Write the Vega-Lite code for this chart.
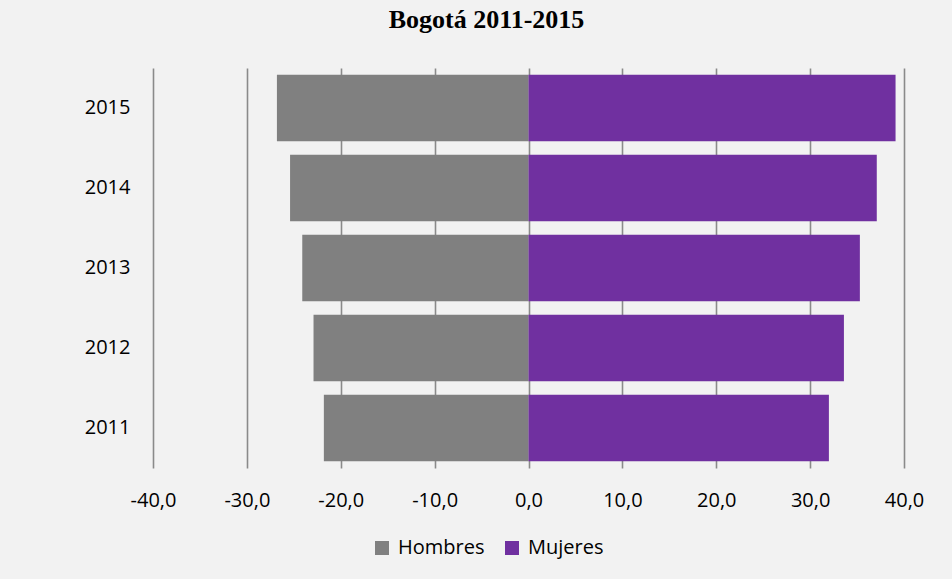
{
  "$schema": "https://vega.github.io/schema/vega-lite/v6.json",
  "width": 751,
  "height": 400,
  "autosize": "none",
  "padding": {"left": 153, "top": 68, "right": 48, "bottom": 111},
  "background": "#f2f2f2",
  "title": {
    "text": "Bogotá 2011-2015",
    "font": "Liberation Serif",
    "fontSize": 26,
    "fontWeight": "bold",
    "color": "#000000",
    "anchor": "middle",
    "frame": "group",
    "baseline": "alphabetic",
    "offset": 14,
    "dx": -42
  },
  "data": {
    "values": [
      {"anio": "2015", "sexo": "Hombres", "valor": -26.8},
      {"anio": "2014", "sexo": "Hombres", "valor": -25.4},
      {"anio": "2013", "sexo": "Hombres", "valor": -24.1},
      {"anio": "2012", "sexo": "Hombres", "valor": -22.9},
      {"anio": "2011", "sexo": "Hombres", "valor": -21.8},
      {"anio": "2015", "sexo": "Mujeres", "valor": 39.1},
      {"anio": "2014", "sexo": "Mujeres", "valor": 37.1},
      {"anio": "2013", "sexo": "Mujeres", "valor": 35.3},
      {"anio": "2012", "sexo": "Mujeres", "valor": 33.6},
      {"anio": "2011", "sexo": "Mujeres", "valor": 32.0}
    ]
  },
  "mark": {"type": "bar"},
  "encoding": {
    "y": {
      "field": "anio",
      "type": "ordinal",
      "sort": "descending",
      "scale": {"paddingInner": 0.1667, "paddingOuter": 0.0833},
      "axis": {
        "title": null,
        "domain": false,
        "ticks": false,
        "grid": false,
        "labelPadding": 23,
        "labelFont": "Open Sans",
        "labelFontSize": 20,
        "labelColor": "#000000"
      }
    },
    "x": {
      "field": "valor",
      "type": "quantitative",
      "scale": {"domain": [-40, 40], "nice": false},
      "axis": {
        "title": null,
        "values": [-40, -30, -20, -10, 0, 10, 20, 30, 40],
        "labelExpr": "(datum.value < 0 ? '-' : '') + replace(format(abs(datum.value), '.1f'), '.', ',')",
        "domain": false,
        "ticks": false,
        "grid": true,
        "gridColor": "#8a8a8a",
        "gridWidth": 1.6,
        "labelPadding": 22,
        "labelFont": "Open Sans",
        "labelFontSize": 20,
        "labelColor": "#000000",
        "labelFlush": false
      }
    },
    "color": {
      "field": "sexo",
      "type": "nominal",
      "scale": {"domain": ["Hombres", "Mujeres"], "range": ["#808080", "#7030a0"]},
      "legend": {
        "title": null,
        "orient": "none",
        "direction": "horizontal",
        "legendX": 219,
        "legendY": 470,
        "symbolType": "square",
        "symbolSize": 196,
        "symbolStrokeWidth": 0,
        "symbolOpacity": 1,
        "labelFont": "Open Sans",
        "labelFontSize": 20,
        "labelColor": "#000000",
        "labelOffset": 6,
        "columnPadding": 17,
        "padding": 0
      }
    }
  },
  "config": {
    "view": {"stroke": null}
  }
}
